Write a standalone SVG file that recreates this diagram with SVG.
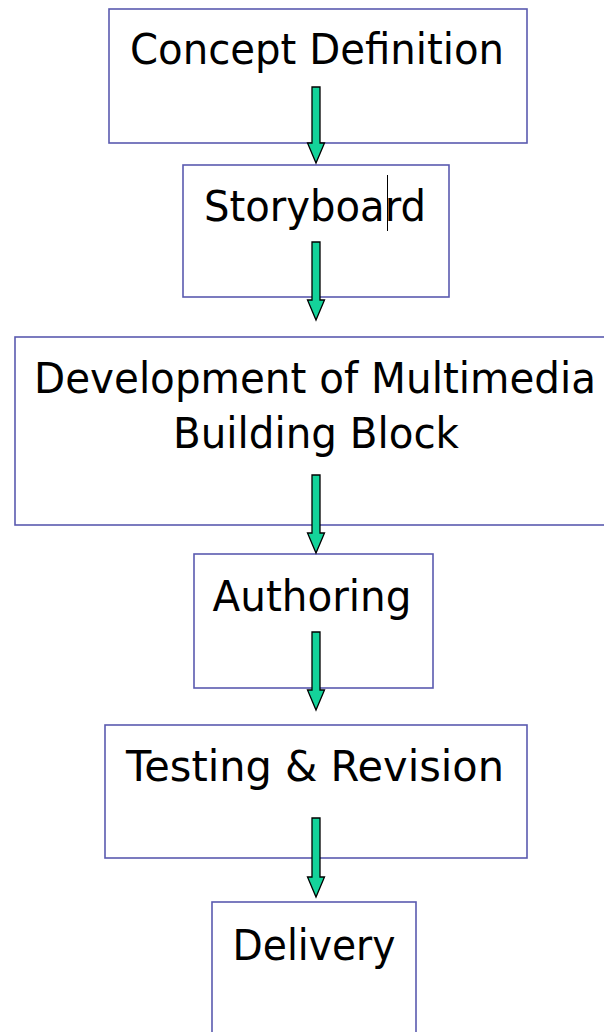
<svg xmlns="http://www.w3.org/2000/svg" width="604" height="1032" viewBox="0 0 604 1032">
<style>
.box{fill:none;stroke:#5a5ab0;stroke-width:1.6}
.lbl{font-family:"DejaVu Sans",Verdana,sans-serif;font-size:43px;fill:#000;text-anchor:middle}
.arr{fill:#14d39a;stroke:#000;stroke-width:1.3;stroke-linejoin:miter}
</style>
<rect width="604" height="1032" fill="#fff"/>
<g id="n1"><rect class="box" x="109" y="9" width="418" height="134"/><text class="lbl" x="317" y="64" textLength="374" lengthAdjust="spacingAndGlyphs">Concept Definition</text></g>
<g id="n2"><rect class="box" x="183" y="165" width="266" height="132"/><text class="lbl" x="315" y="221" textLength="222" lengthAdjust="spacingAndGlyphs">Storyboard</text><line x1="387.5" y1="175" x2="387.5" y2="231" stroke="#000" stroke-width="1"/></g>
<g id="n3"><rect class="box" x="15" y="337" width="600" height="188"/><text class="lbl" x="315" y="393" textLength="562" lengthAdjust="spacingAndGlyphs">Development of Multimedia</text><text class="lbl" x="316" y="448" textLength="286" lengthAdjust="spacingAndGlyphs">Building Block</text></g>
<g id="n4"><rect class="box" x="194" y="554" width="239" height="134"/><text class="lbl" x="312" y="611" textLength="199" lengthAdjust="spacingAndGlyphs">Authoring</text></g>
<g id="n5"><rect class="box" x="105" y="725" width="422" height="133"/><text class="lbl" x="315" y="781" textLength="378" lengthAdjust="spacingAndGlyphs">Testing &amp; Revision</text></g>
<g id="n6"><rect class="box" x="212" y="902" width="204" height="140"/><text class="lbl" x="314" y="960" textLength="163" lengthAdjust="spacingAndGlyphs">Delivery</text></g>
<g id="connectors">
<polygon class="arr" points="312,87 320,87 320,143 324.5,143 316,163 307.5,143 312,143"/>
<polygon class="arr" points="312,242 320,242 320,300 324.5,300 316,320 307.5,300 312,300"/>
<polygon class="arr" points="312,475 320,475 320,533 324.5,533 316,553 307.5,533 312,533"/>
<polygon class="arr" points="312,632 320,632 320,690 324.5,690 316,710 307.5,690 312,690"/>
<polygon class="arr" points="312,818 320,818 320,877 324.5,877 316,897 307.5,877 312,877"/>
</g>
</svg>
